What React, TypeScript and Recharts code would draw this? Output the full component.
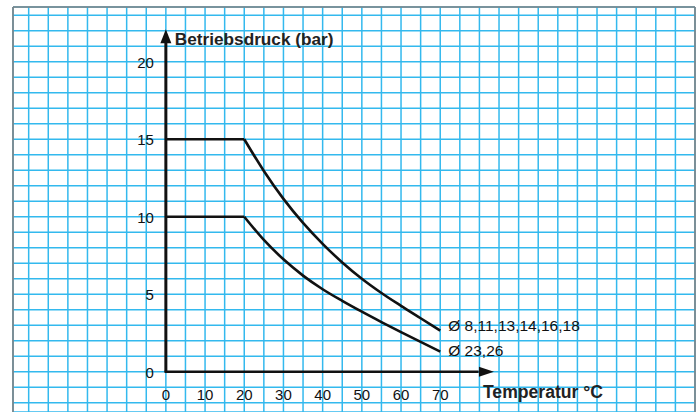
import React from "react";
import {
  ComposedChart,
  Line,
  Scatter,
  XAxis,
  YAxis,
  CartesianGrid,
  ReferenceLine,
  ReferenceDot,
} from "recharts";

// ---- data ----
const temperatures = [0, 20, 25, 30, 35, 40, 45, 50, 55, 60, 65, 70];
const pressureSmallDiameters = [15, 15, 12.95, 11.15, 9.6, 8.25, 7.05, 6.0, 5.08, 4.25, 3.45, 2.65];
const pressureLargeDiameters = [10, 10, 8.5, 7.25, 6.2, 5.32, 4.57, 3.87, 3.2, 2.55, 1.92, 1.3];
const seriesLabels = ["Ø 8,11,13,14,16,18", "Ø 23,26"];
const kneeTemperature = 20;

const xTickLabels = [0, 10, 20, 30, 40, 50, 60, 70];
const yTickLabels = [0, 5, 10, 15, 20];

const gridX = [-35, -30, -25, -20, -15, -10, -5, 0, 5, 10, 15, 20, 25, 30, 35, 40, 45, 50, 55, 60, 65, 70, 75, 80, 85, 90, 95, 100, 105, 110, 115, 120, 125, 130, 135];
const gridY = [-2, -1, 0, 1, 2, 3, 4, 5, 6, 7, 8, 9, 10, 11, 12, 13, 14, 15, 16, 17, 18, 19, 20, 21, 22, 23];

const xTitle = "Temperatur °C";
const yTitle = "Betriebsdruck (bar)";

// ---- derived tables ----
const smallData = temperatures.map((t, i) => ({ x: t, y: pressureSmallDiameters[i] }));
const largeData = temperatures.map((t, i) => ({ x: t, y: pressureLargeDiameters[i] }));
const flatPart = (d: { x: number; y: number }[]) => d.filter((p) => p.x <= kneeTemperature);
const curvePart = (d: { x: number; y: number }[]) => d.filter((p) => p.x >= kneeTemperature);
const xTickData = xTickLabels.map((t) => ({ x: t, y: 0, label: String(t) }));
const yTickData = yTickLabels.map((t) => ({ x: 0, y: t, label: String(t) }));

// ---- styling ----
const X_DOMAIN: [number, number] = [-39, 135];
const Y_DOMAIN: [number, number] = [-2.6, 23.53];
const Y_ARROW_TIP = 22.09;
const Y_ARROW_BASE = 21.2;
const X_ARROW_TIP = 83.7;
const X_ARROW_BASE = 79.8;
const FONT = "'Liberation Sans', Arial, Helvetica, sans-serif";
const GRID_COLOR = "#33B9EE";
const FRAME_COLOR = "#808080";
const INK = "#111";
const labelDy = [0.5, 4.5];

const makeEndLabel = (text: string, dy: number, lastIndex: number) => (props: any) => {
  const { x, y, index } = props;
  if (index !== lastIndex) return null;
  return (
    <text x={x + 8} y={y + dy} fontSize={15.5} fontFamily={FONT} fill={INK} textAnchor="start">
      {text}
    </text>
  );
};

const XTickShape = (props: any) => (
  <text x={props.cx} y={props.cy + 28} fontSize={15} fontFamily={FONT} fill={INK} textAnchor="middle">
    {props.payload.label}
  </text>
);

const YTickShape = (props: any) => (
  <text x={props.cx - 12} y={props.cy + 6} fontSize={15} fontFamily={FONT} fill={INK} textAnchor="end">
    {props.payload.label}
  </text>
);

const UpArrow = (props: any) => {
  const { cx, cy } = props;
  return (
    <g>
      <polygon points={`${cx},${cy} ${cx - 5.5},${cy + 14} ${cx + 5.5},${cy + 14}`} fill={INK} />
      <text x={cx + 9} y={cy + 16} fontSize={17.2} fontWeight="bold" fontFamily={FONT} fill="#222">
        {yTitle}
      </text>
    </g>
  );
};

const RightArrow = (props: any) => {
  const { cx, cy } = props;
  return (
    <g>
      <polygon points={`${cx},${cy} ${cx - 15},${cy - 5} ${cx - 15},${cy + 5}`} fill={INK} />
      <text x={cx - 11} y={cy + 26} fontSize={17.6} fontWeight="bold" fontFamily={FONT} fill="#222">
        {xTitle}
      </text>
    </g>
  );
};

const lineCommon = {
  dataKey: "y",
  stroke: INK,
  strokeWidth: 2.6,
  dot: false,
  activeDot: false,
  isAnimationActive: false,
  strokeLinejoin: "round" as const,
};

export default function App() {
  const small = curvePart(smallData);
  const large = curvePart(largeData);
  return (
    <div style={{ position: "absolute", left: 0, top: 0, width: 698, height: 412, background: "#fff" }}>
      <ComposedChart width={698} height={412} margin={{ top: 7, right: 3, bottom: 0, left: 13 }}>
        <XAxis
          type="number"
          dataKey="x"
          domain={X_DOMAIN}
          ticks={gridX}
          interval={0}
          allowDataOverflow
          hide
        />
        <YAxis
          type="number"
          dataKey="y"
          domain={Y_DOMAIN}
          ticks={gridY}
          interval={0}
          allowDataOverflow
          hide
        />
        <CartesianGrid stroke={GRID_COLOR} strokeWidth={1.5} />
        <ReferenceLine x={X_DOMAIN[0]} stroke={FRAME_COLOR} strokeWidth={1.6} />
        <ReferenceLine x={X_DOMAIN[1]} stroke={FRAME_COLOR} strokeWidth={1.6} />
        <ReferenceLine y={Y_DOMAIN[1]} stroke={FRAME_COLOR} strokeWidth={1.6} />
        <ReferenceLine
          segment={[{ x: 0, y: 0 }, { x: 0, y: Y_ARROW_BASE }]}
          stroke={INK}
          strokeWidth={3}
        />
        <ReferenceLine
          segment={[{ x: -0.35, y: 0 }, { x: X_ARROW_BASE, y: 0 }]}
          stroke={INK}
          strokeWidth={2.4}
        />
        <Line {...lineCommon} data={flatPart(smallData)} type="linear" />
        <Line
          {...lineCommon}
          data={small}
          type="monotone"
          label={makeEndLabel(seriesLabels[0], labelDy[0], small.length - 1)}
        />
        <Line {...lineCommon} data={flatPart(largeData)} type="linear" />
        <Line
          {...lineCommon}
          data={large}
          type="monotone"
          label={makeEndLabel(seriesLabels[1], labelDy[1], large.length - 1)}
        />
        <Scatter data={xTickData} dataKey="y" shape={XTickShape} isAnimationActive={false} />
        <Scatter data={yTickData} dataKey="y" shape={YTickShape} isAnimationActive={false} />
        <ReferenceDot x={0} y={Y_ARROW_TIP} r={0} shape={UpArrow} />
        <ReferenceDot x={X_ARROW_TIP} y={0} r={0} shape={RightArrow} />
      </ComposedChart>
    </div>
  );
}
